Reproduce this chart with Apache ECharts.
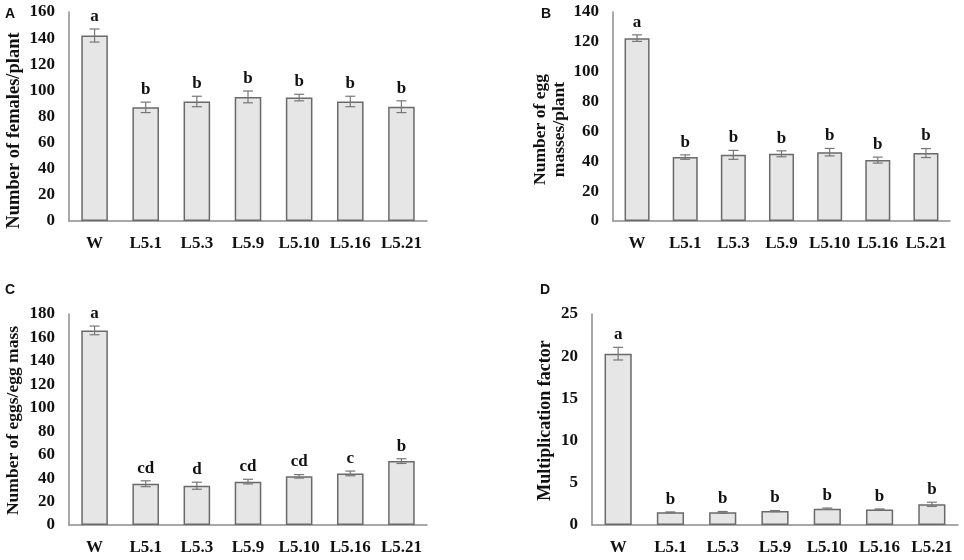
<!DOCTYPE html>
<html>
<head>
<meta charset="utf-8">
<script src="https://cdn.jsdelivr.net/npm/echarts@6/dist/echarts.min.js"></script>
<style>
  html, body { margin: 0; padding: 0; background: #fff; }
  #chart { width: 964px; height: 560px; }
</style>
</head>
<body>
<div id="chart"></div>
<script>
// lines on x axis (same for all panels)
const categories = ["W", "L5.1", "L5.3", "L5.9", "L5.10", "L5.16", "L5.21"];

// A : females per plant
const femalesMean = [142, 87, 91.5, 95, 94.5, 91.5, 87.5];
const femalesErr = [5, 4, 4, 4.5, 2.5, 4, 4.5];
const femalesLetters = ["a", "b", "b", "b", "b", "b", "b"];

// B : egg masses per plant
const massesMean = [122.5, 42.8, 44.3, 45, 46.1, 40.8, 45.5];
const massesErr = [2.2, 1.5, 3, 2, 2.5, 2, 3];
const massesLetters = ["a", "b", "b", "b", "b", "b", "b"];

// C : eggs per egg mass
const eggsMean = [166, 35.2, 33.5, 37, 41.5, 44, 54.5];
const eggsErr = [3.7, 2.5, 3, 2, 1.5, 2, 2];
const eggsLetters = ["a", "cd", "d", "cd", "cd", "c", "b"];

// D : multiplication factor
const factorMean = [20.3, 1.5, 1.5, 1.65, 1.93, 1.85, 2.45];
const factorErr = [0.75, 0.05, 0.1, 0.06, 0.08, 0.05, 0.25];
const factorLetters = ["a", "b", "b", "b", "b", "b", "b"];

const serif = "'Liberation Serif', 'Times New Roman', serif";
const axisGray = "#8c8c8c";

// namePad: right padding pushes the rotated axis name down a bit (as in the figure)
const panels = [
  { mean: femalesMean, err: femalesErr, letters: femalesLetters, max: 160, interval: 20,
    name: "Number of females/plant", nameGap: 45, nameSize: 18.5, namePad: 28,
    grid: { left: 69, top: 12, right: 537, bottom: 339 } },
  { mean: massesMean, err: massesErr, letters: massesLetters, max: 140, interval: 20,
    name: "Number of egg\nmasses/plant", nameGap: 44, nameSize: 17.5, namePad: 26,
    grid: { left: 613, top: 12, right: 14, bottom: 339 } },
  { mean: eggsMean, err: eggsErr, letters: eggsLetters, max: 180, interval: 20,
    name: "Number of eggs/egg mass", nameGap: 46, nameSize: 17.5, namePad: 2,
    grid: { left: 69, top: 314, right: 537, bottom: 35 } },
  { mean: factorMean, err: factorErr, letters: factorLetters, max: 25, interval: 5,
    name: "Multiplication factor", nameGap: 37, nameSize: 18, namePad: 2,
    grid: { left: 592, top: 314, right: 6, bottom: 35 } },
];

const grids = [];
const xAxes = [];
const yAxes = [];
const series = [];

panels.forEach(function (p, i) {
  grids.push(p.grid);
  xAxes.push({
    type: "category",
    gridIndex: i,
    data: categories,
    axisTick: { show: false },
    axisLine: { lineStyle: { color: axisGray, width: 1.5 } },
    axisLabel: {
      margin: 14,
      color: "#111",
      fontFamily: serif,
      fontWeight: "bold",
      fontSize: 17,
      interval: 0,
    },
  });
  yAxes.push({
    type: "value",
    gridIndex: i,
    min: 0,
    max: p.max,
    interval: p.interval,
    name: p.name,
    nameLocation: "middle",
    nameGap: p.nameGap,
    nameTextStyle: {
      color: "#111",
      fontFamily: serif,
      fontWeight: "bold",
      fontSize: p.nameSize,
      lineHeight: 19,
      padding: [0, p.namePad, 0, 0],
    },
    splitLine: { show: false },
    axisTick: { show: false },
    axisLine: { show: true, lineStyle: { color: axisGray, width: 1.5 } },
    axisLabel: {
      margin: 14,
      color: "#111",
      fontFamily: serif,
      fontWeight: "bold",
      fontSize: 17,
    },
  });

  series.push({
    type: "bar",
    xAxisIndex: i,
    yAxisIndex: i,
    data: p.mean,
    barWidth: "52%",
    z: 2,
    itemStyle: { color: "#e6e6e6", borderColor: "#6a6a6a", borderWidth: 1.5 },
    silent: true,
  });

  // error bars + significance letters
  series.push({
    type: "custom",
    xAxisIndex: i,
    yAxisIndex: i,
    z: 5,
    silent: true,
    data: p.mean.map(function (m, k) { return [k, m - p.err[k], m + p.err[k]]; }),
    renderItem: function (params, api) {
      const k = api.value(0);
      const lo = api.coord([k, api.value(1)]);
      const hi = api.coord([k, api.value(2)]);
      const cap = 5;
      const st = { stroke: "#777", lineWidth: 1.2 };
      return {
        type: "group",
        children: [
          { type: "line", shape: { x1: hi[0], y1: hi[1], x2: lo[0], y2: lo[1] }, style: st },
          { type: "line", shape: { x1: hi[0] - cap, y1: hi[1], x2: hi[0] + cap, y2: hi[1] }, style: st },
          { type: "line", shape: { x1: lo[0] - cap, y1: lo[1], x2: lo[0] + cap, y2: lo[1] }, style: st },
          {
            type: "text",
            x: hi[0],
            y: hi[1] - 4,
            style: {
              text: p.letters[params.dataIndex],
              textAlign: "center",
              textVerticalAlign: "bottom",
              fill: "#111",
              font: "bold 17px " + serif,
            },
          },
        ],
      };
    },
  });
});

const panelLetters = [
  { text: "A", left: 5, top: 7 },
  { text: "B", left: 541, top: 7 },
  { text: "C", left: 5, top: 283 },
  { text: "D", left: 540, top: 283 },
];

const chart = echarts.init(document.getElementById("chart"));
chart.setOption({
  animation: false,
  title: panelLetters.map(function (t) {
    return {
      text: t.text,
      left: t.left,
      top: t.top,
      padding: 0,
      textStyle: { fontFamily: "'Liberation Sans', Arial, sans-serif", fontWeight: "bold", fontSize: 14, color: "#111" },
    };
  }),
  grid: grids,
  xAxis: xAxes,
  yAxis: yAxes,
  series: series,
});
</script>
</body>
</html>
